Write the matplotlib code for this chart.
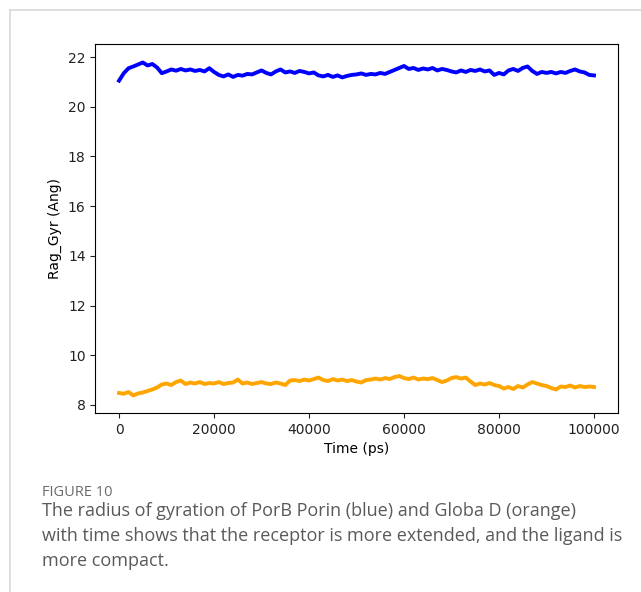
import numpy as np
import matplotlib
matplotlib.use("Agg")
import matplotlib.pyplot as plt
from matplotlib.lines import Line2D

time_ps = np.arange(0, 101) * 1000

porb_rg = [21.05, 21.35, 21.55, 21.62, 21.70, 21.78, 21.66, 21.72, 21.58, 21.35,
           21.42, 21.50, 21.45, 21.52, 21.46, 21.50, 21.44, 21.48, 21.42, 21.55,
           21.40, 21.28, 21.22, 21.30, 21.20, 21.28, 21.25, 21.32, 21.30, 21.38,
           21.46, 21.36, 21.30, 21.42, 21.50, 21.38, 21.42, 21.36, 21.44, 21.40,
           21.34, 21.38, 21.26, 21.22, 21.28, 21.20, 21.26, 21.18, 21.24, 21.28,
           21.30, 21.34, 21.28, 21.32, 21.30, 21.36, 21.32, 21.40, 21.48, 21.56,
           21.64, 21.52, 21.56, 21.48, 21.54, 21.50, 21.56, 21.46, 21.52, 21.48,
           21.42, 21.38, 21.46, 21.40, 21.48, 21.44, 21.50, 21.42, 21.46, 21.28,
           21.36, 21.30, 21.46, 21.52, 21.44, 21.56, 21.62, 21.44, 21.32, 21.40,
           21.36, 21.40, 21.34, 21.40, 21.36, 21.44, 21.50, 21.42, 21.38, 21.28,
           21.26]

globa_rg = [8.48, 8.45, 8.52, 8.38, 8.46, 8.50, 8.56, 8.62, 8.70, 8.82,
            8.86, 8.80, 8.92, 8.98, 8.84, 8.90, 8.86, 8.92, 8.84, 8.88,
            8.86, 8.92, 8.84, 8.88, 8.90, 9.02, 8.86, 8.90, 8.84, 8.88,
            8.92, 8.86, 8.84, 8.90, 8.86, 8.80, 8.98, 9.00, 8.96, 9.02,
            8.98, 9.04, 9.10, 9.00, 8.96, 9.04, 8.98, 9.02, 8.96, 9.00,
            8.94, 8.90, 9.00, 9.02, 9.06, 9.02, 9.08, 9.04, 9.12, 9.16,
            9.08, 9.04, 9.10, 9.02, 9.06, 9.04, 9.08, 9.00, 8.92, 8.98,
            9.08, 9.12, 9.06, 9.10, 8.94, 8.80, 8.86, 8.82, 8.88, 8.80,
            8.76, 8.66, 8.72, 8.64, 8.76, 8.70, 8.82, 8.92, 8.86, 8.80,
            8.76, 8.68, 8.62, 8.74, 8.72, 8.78, 8.70, 8.76, 8.72, 8.74,
            8.72]

x_ticks = [0, 20000, 40000, 60000, 80000, 100000]
y_ticks = [8, 10, 12, 14, 16, 18, 20, 22]

caption_head = "FIGURE 10"
caption_lines = ["The radius of gyration of PorB Porin (blue) and Globa D (orange)",
                 "with time shows that the receptor is more extended, and the ligand is",
                 "more compact."]

fig = plt.figure(figsize=(6.41, 5.92), dpi=100)
ax = fig.add_axes([0.1487, 0.3024, 0.8150, 0.6233])
ax.plot(time_ps, porb_rg, color="blue", lw=2.8)
ax.plot(time_ps, globa_rg, color="orange", lw=2.8)
ax.set_xticks(x_ticks)
ax.set_yticks(y_ticks)
ax.set_xlim(-5000, 105000)
ax.set_ylim(7.675, 22.525)
ax.tick_params(labelsize=10, colors="#222222")
ax.set_xlabel("Time (ps)", fontsize=10)
ax.set_ylabel("Rag_Gyr (Ang)", fontsize=10)

# page frame lines
fig.add_artist(Line2D([10/641, 1], [1-10/592, 1-10/592], color="#d8d8d8", lw=1.2, transform=fig.transFigure))
fig.add_artist(Line2D([10/641, 10/641], [0, 1-10/592], color="#d8d8d8", lw=1.2, transform=fig.transFigure))

fig.text(42/641, 1-492/592, caption_head, fontsize=10.5, color="#6a6a6a",
         family=["Open Sans", "DejaVu Sans"], va="center", ha="left")
for i, line in enumerate(caption_lines):
    fig.text(42/641, 1-(511+25*i)/592, line, fontsize=13.0, color="#5a5a5a",
             family=["Open Sans", "DejaVu Sans"], va="center", ha="left")

fig.savefig("out.png", dpi=100)
